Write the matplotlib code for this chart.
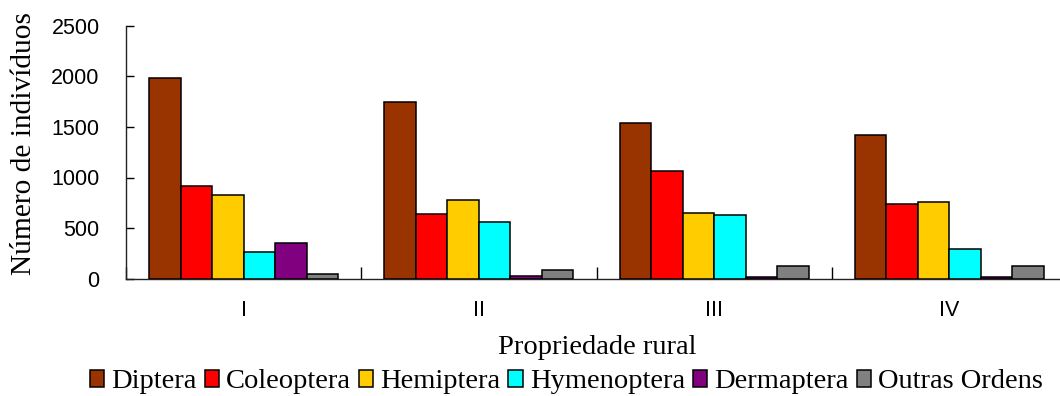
import matplotlib
matplotlib.use("Agg")
import matplotlib.pyplot as plt
import numpy as np

properties = ["I", "II", "III", "IV"]
orders = ["Diptera", "Coleoptera", "Hemiptera", "Hymenoptera", "Dermaptera", "Outras Ordens"]
diptera = [1980, 1749, 1536, 1417]
coleoptera = [919, 636, 1061, 741]
hemiptera = [827, 775, 649, 761]
hymenoptera = [261, 560, 632, 296]
dermaptera = [350, 27, 17, 17]
outras = [46, 83, 122, 122]
colors = ["#993300", "#FF0000", "#FFCC00", "#00FFFF", "#800080", "#808080"]

series = [diptera, coleoptera, hemiptera, hymenoptera, dermaptera, outras]

fig = plt.figure(figsize=(10.6, 3.96), dpi=100)
ax = fig.add_axes([126 / 1060, 1 - 278.7 / 396, 941 / 1060, 253 / 396])

x = np.arange(len(properties))
width = 0.134
for i, (name, vals) in enumerate(zip(orders, series)):
    offset = (i - 2.5) * width
    ax.bar(x + offset, vals, width, color=colors[i], edgecolor="black",
           linewidth=1.1, label=name, zorder=3)

ax.set_xlim(-0.5, len(properties) - 0.5)
ax.set_ylim(0, 2500)
ax.set_yticks(np.arange(0, 2501, 500))

# group boundaries as ticks, labels at the centres
ax.set_xticks(np.arange(-0.5, len(properties), 1.0))
ax.set_xticklabels([])
ax.set_xticks(x, minor=True)
ax.set_xticklabels(properties, minor=True)
ax.tick_params(axis="x", which="major", direction="in", length=9, width=1)
ax.tick_params(axis="x", which="minor", length=0, pad=15)
ax.tick_params(axis="y", direction="in", length=6, width=1, pad=19)
for lab in ax.get_xticklabels(minor=True) + ax.get_yticklabels():
    lab.set_fontfamily("Liberation Sans")
    lab.set_fontsize(15.5)

for s in ["top", "right"]:
    ax.spines[s].set_visible(False)
for s in ["left", "bottom"]:
    ax.spines[s].set_linewidth(1.0)
    ax.spines[s].set_color("#222222")

fig.text(24 / 1060, 1 - 143.5 / 396, "Número de indivíduos", rotation=90,
         ha="center", va="center", family="Liberation Serif", fontsize=21.2)
fig.text(597 / 1060, 1 - 348 / 396, "Propriedade rural", ha="center",
         va="center", family="Liberation Serif", fontsize=20.5)

# legend squeezed a little so "Outras Ordens" stays inside the figure
fig.legend(loc="center left", bbox_to_anchor=(90 / 1060, 1 - 382 / 396),
           ncol=6, frameon=False, borderpad=0, borderaxespad=0,
           handlelength=0.5, handleheight=0.5, handletextpad=0.25,
           columnspacing=0.28, prop={"family": "Liberation Serif", "size": 20.5})

fig.savefig("out.png", dpi=100)
